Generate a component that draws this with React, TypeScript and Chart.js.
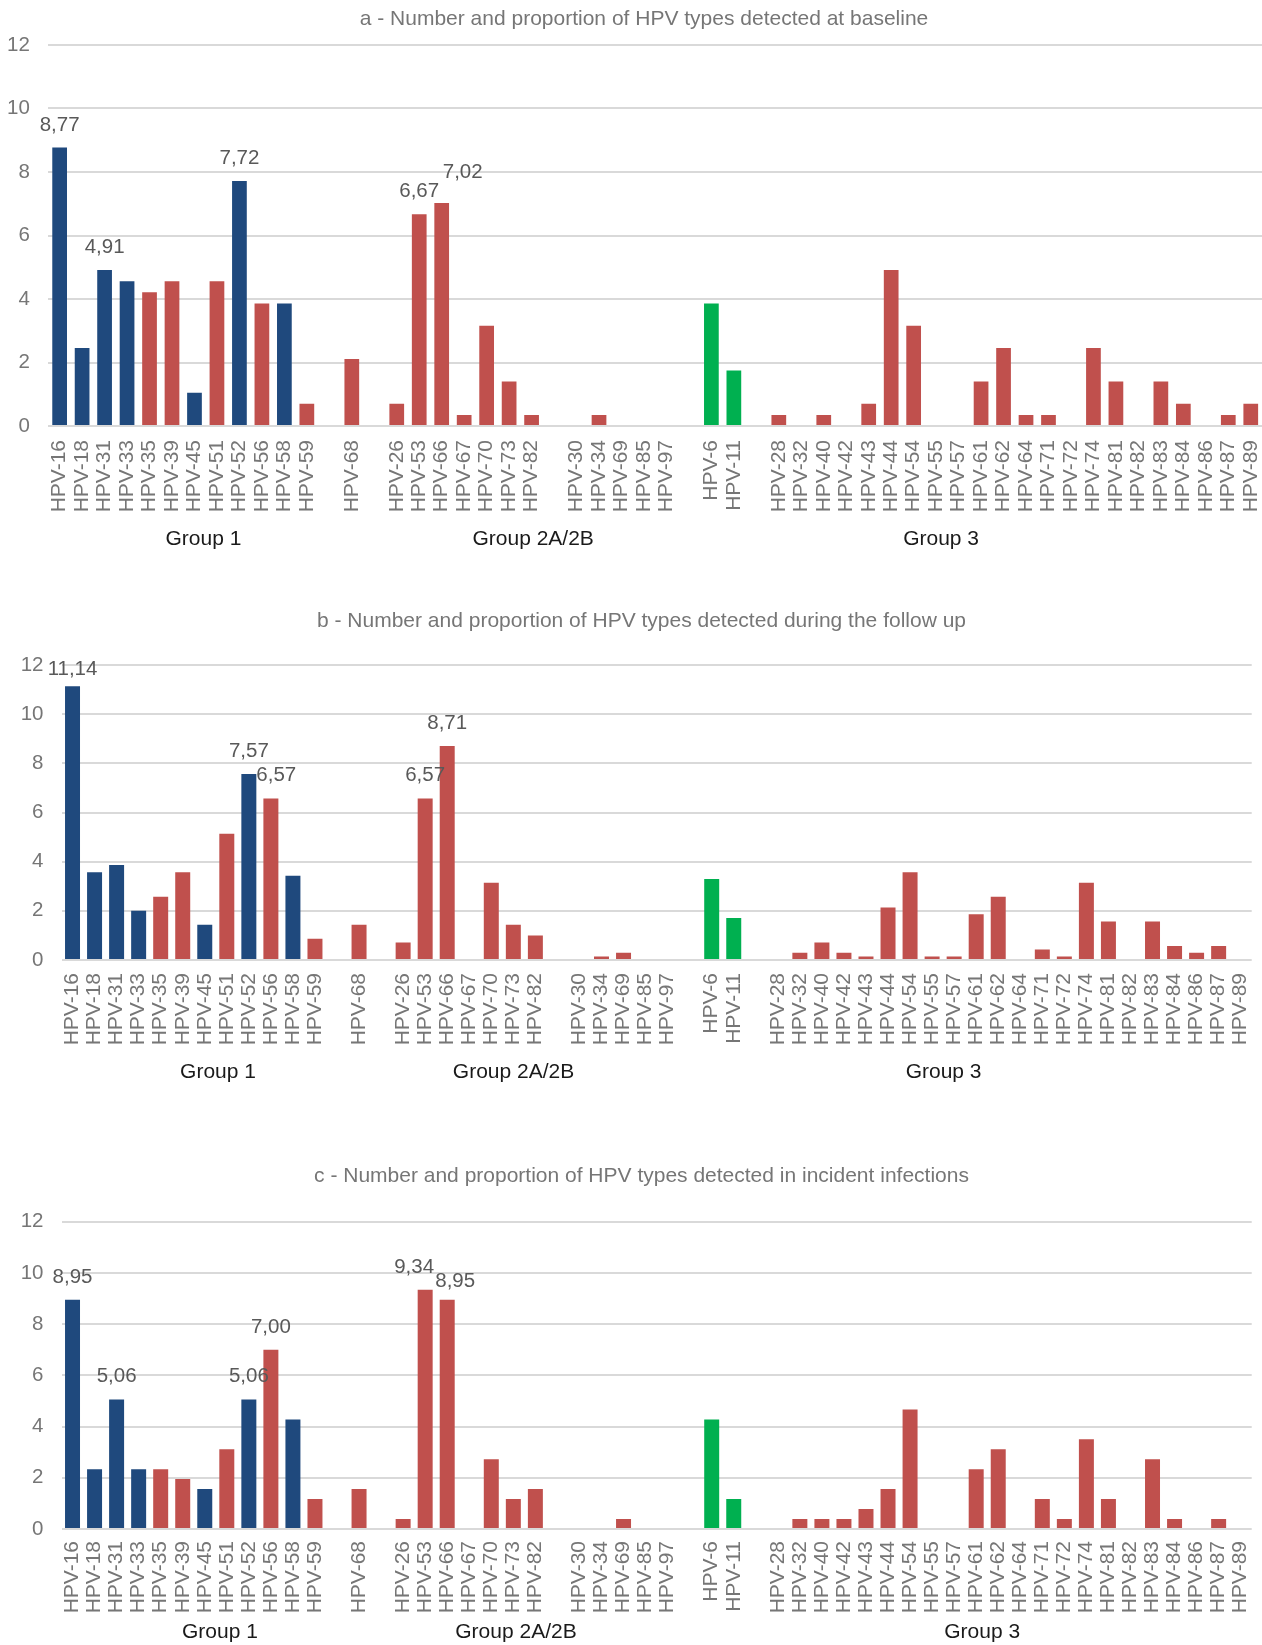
import React, { useEffect, useRef } from 'react';
import { Chart, registerables } from 'chart.js';

Chart.register(...registerables);

// ---------- DATA ----------
const categories = [
  'HPV-16', 'HPV-18', 'HPV-31', 'HPV-33', 'HPV-35', 'HPV-39', 'HPV-45', 'HPV-51', 'HPV-52', 'HPV-56', 'HPV-58', 'HPV-59',
  '',
  'HPV-68',
  '',
  'HPV-26', 'HPV-53', 'HPV-66', 'HPV-67', 'HPV-70', 'HPV-73', 'HPV-82',
  '',
  'HPV-30', 'HPV-34', 'HPV-69', 'HPV-85', 'HPV-97',
  '',
  'HPV-6', 'HPV-11',
  '',
  'HPV-28', 'HPV-32', 'HPV-40', 'HPV-42', 'HPV-43', 'HPV-44', 'HPV-54', 'HPV-55', 'HPV-57', 'HPV-61', 'HPV-62',
  'HPV-64', 'HPV-71', 'HPV-72', 'HPV-74', 'HPV-81', 'HPV-82', 'HPV-83', 'HPV-84', 'HPV-86', 'HPV-87', 'HPV-89',
];

// v = 9-valent vaccine high-risk type, o = other type, l = low-risk vaccine type, '' = spacer
const colourKey = [
  'v', 'v', 'v', 'v', 'o', 'o', 'v', 'o', 'v', 'o', 'v', 'o',
  '',
  'o',
  '',
  'o', 'o', 'o', 'o', 'o', 'o', 'o',
  '',
  'o', 'o', 'o', 'o', 'o',
  '',
  'l', 'l',
  '',
  'o', 'o', 'o', 'o', 'o', 'o', 'o', 'o', 'o', 'o', 'o',
  'o', 'o', 'o', 'o', 'o', 'o', 'o', 'o', 'o', 'o', 'o',
];

const baselineValues = [
  8.77, 2.46, 4.91, 4.56, 4.21, 4.56, 1.05, 4.56, 7.72, 3.86, 3.86, 0.70,
  null,
  2.11,
  null,
  0.70, 6.67, 7.02, 0.35, 3.16, 1.40, 0.35,
  null,
  0, 0.35, 0, 0, 0,
  null,
  3.86, 1.75,
  null,
  0.35, 0, 0.35, 0, 0.70, 4.91, 3.16, 0, 0, 1.40, 2.46,
  0.35, 0.35, 0, 2.46, 1.40, 0, 1.40, 0.70, 0, 0.35, 0.70,
];

const followUpValues = [
  11.14, 3.57, 3.86, 2.00, 2.57, 3.57, 1.43, 5.14, 7.57, 6.57, 3.43, 0.86,
  null,
  1.43,
  null,
  0.71, 6.57, 8.71, 0, 3.14, 1.43, 1.00,
  null,
  0, 0.14, 0.29, 0, 0,
  null,
  3.29, 1.71,
  null,
  0, 0.29, 0.71, 0.29, 0.14, 2.14, 3.57, 0.14, 0.14, 1.86, 2.57,
  0, 0.43, 0.14, 3.14, 1.57, 0, 1.57, 0.57, 0.29, 0.57, 0,
];

const incidentValues = [
  8.95, 2.33, 5.06, 2.33, 2.33, 1.95, 1.56, 3.11, 5.06, 7.00, 4.28, 1.17,
  null,
  1.56,
  null,
  0.39, 9.34, 8.95, 0, 2.72, 1.17, 1.56,
  null,
  0, 0, 0.39, 0, 0,
  null,
  4.28, 1.17,
  null,
  0, 0.39, 0.39, 0.39, 0.78, 1.56, 4.67, 0, 0, 2.33, 3.11,
  0, 1.17, 0.39, 3.50, 1.17, 0, 2.72, 0.39, 0, 0.39, 0,
];

const yTicks = [0, 2, 4, 6, 8, 10, 12];
const groupNames = ['Group 1', 'Group 2A/2B', 'Group 3'];
const titles = [
  'a - Number and proportion of HPV types detected at baseline',
  'b - Number and proportion of HPV types detected during the follow up',
  'c - Number and proportion of HPV types detected in incident infections',
];
// indices of bars carrying a data label
const labelledA = [0, 2, 8, 16, 17];
const labelledB = [0, 8, 9, 16, 17];
const labelledC = [0, 2, 8, 9, 16, 17];

// ---------- STYLE / LAYOUT ----------
const COLORS: Record<string, string> = { v: '#1F497D', o: '#C0504D', l: '#00B050', '': 'rgba(0,0,0,0)' };
const FONT = '"Liberation Sans", Arial, Helvetica, sans-serif';
const PAGE_W = 1262;
const X_AXIS_H = 92;
const LABEL_DY = -22.7;
const TICK_COLOR = '#767676';

type Panel = {
  values: (number | null)[];
  title: string;
  labelled: number[];
  labelShift: Record<number, { dx?: number; dy?: number }>;
  groupPos: number[];
  top: number; height: number;
  areaLeft: number; areaRight: number; areaTop: number; areaBottom: number;
  titleX: number; titleY: number; groupY: number;
  yPad: number; xPad: number; barPct: number;
};

const panels: Panel[] = [
  {
    values: baselineValues, title: titles[0], labelled: labelledA,
    labelShift: { 17: { dx: 21, dy: -31 } },
    groupPos: [6.4, 21.07, 39.22],
    top: 0, height: 565, areaLeft: 48.4, areaRight: 1262, areaTop: 45, areaBottom: 426,
    titleX: 644, titleY: 19, groupY: 539, yPad: 18.5, xPad: 14, barPct: 0.655,
  },
  {
    values: followUpValues, title: titles[1], labelled: labelledB,
    labelShift: { 0: { dy: -17 }, 9: { dx: 5.4 } },
    groupPos: [6.6, 20.01, 39.52],
    top: 580, height: 520, areaLeft: 61.5, areaRight: 1251.7, areaTop: 665, areaBottom: 960,
    titleX: 641.5, titleY: 621, groupY: 1072, yPad: 18, xPad: 13, barPct: 0.68,
  },
  {
    values: incidentValues, title: titles[2], labelled: labelledC,
    labelShift: { 16: { dx: -11 }, 17: { dx: 8, dy: -18 } },
    groupPos: [6.69, 20.12, 41.27],
    top: 1130, height: 515, areaLeft: 61.5, areaRight: 1251.7, areaTop: 1221.7, areaBottom: 1529,
    titleX: 641.5, titleY: 1176.5, groupY: 1632.5, yPad: 18, xPad: 12, barPct: 0.68,
  },
];

function fmt(v: number) {
  return v.toFixed(2).replace('.', ',');
}

function PanelChart({ p }: { p: Panel }) {
  const ref = useRef<HTMLCanvasElement | null>(null);
  useEffect(() => {
    if (!ref.current) return;
    const areaTopLocal = p.areaTop - p.top;
    const areaBottomLocal = p.areaBottom - p.top;
    const annotate = {
      id: 'annotate',
      afterDraw(chart: any) {
        const ctx = chart.ctx;
        const xs = chart.scales.x;
        const ys = chart.scales.y;
        ctx.save();
        // title
        ctx.font = `21px ${FONT}`;
        ctx.fillStyle = '#767676';
        ctx.textAlign = 'center';
        ctx.textBaseline = 'middle';
        ctx.fillText(p.title, p.titleX, p.titleY - p.top);
        // data labels
        ctx.font = `20.5px ${FONT}`;
        ctx.fillStyle = '#595959';
        p.labelled.forEach((i) => {
          const v = p.values[i];
          if (v == null) return;
          const s = p.labelShift[i] || {};
          const x = xs.getPixelForValue(i) + (s.dx || 0);
          const y = ys.getPixelForValue(v) + (s.dy ?? LABEL_DY);
          ctx.fillText(fmt(v), x, y);
        });
        // group labels
        ctx.font = `21px ${FONT}`;
        ctx.fillStyle = '#1a1a1a';
        groupNames.forEach((g, k) => {
          ctx.fillText(g, xs.getPixelForValue(p.groupPos[k]), p.groupY - p.top);
        });
        ctx.restore();
      },
    };
    const chart = new Chart(ref.current, {
      type: 'bar',
      data: {
        labels: categories,
        datasets: [
          {
            data: p.values as any,
            backgroundColor: colourKey.map((k) => COLORS[k]),
            borderWidth: 0,
            barPercentage: p.barPct,
            categoryPercentage: 1,
          },
        ],
      },
      options: {
        responsive: false,
        animation: false,
        events: [],
        layout: {
          padding: {
            left: 0,
            right: PAGE_W - p.areaRight,
            top: areaTopLocal,
            bottom: p.height - areaBottomLocal - X_AXIS_H,
          },
        },
        plugins: {
          legend: { display: false },
          title: { display: false },
          tooltip: { enabled: false },
        },
        scales: {
          x: {
            grid: { display: false, drawTicks: false },
            border: { display: false },
            ticks: {
              autoSkip: false,
              minRotation: 90,
              maxRotation: 90,
              padding: p.xPad,
              color: TICK_COLOR,
              font: { family: FONT, size: 21 },
            },
            afterFit: (s: any) => {
              s.height = X_AXIS_H;
              s.paddingLeft = 0;
              s.paddingRight = 0;
            },
          },
          y: {
            min: 0,
            max: 12,
            afterBuildTicks: (s: any) => {
              s.ticks = yTicks.map((v) => ({ value: v }));
            },
            grid: { color: '#D9D9D9', lineWidth: 2, drawTicks: false },
            border: { display: false },
            ticks: {
              padding: p.yPad,
              color: TICK_COLOR,
              font: { family: FONT, size: 20.5 },
            },
            afterFit: (s: any) => {
              s.width = p.areaLeft;
              s.paddingTop = 0;
              s.paddingBottom = 0;
            },
          },
        },
      },
      plugins: [annotate],
    });
    return () => chart.destroy();
  }, [p]);
  return (
    <canvas
      ref={ref}
      width={PAGE_W}
      height={p.height}
      style={{ position: 'absolute', left: 0, top: p.top, width: PAGE_W, height: p.height, display: 'block' }}
    />
  );
}

export default function App() {
  return (
    <div style={{ position: 'absolute', left: 0, top: 0, width: PAGE_W, height: 1645, overflow: 'hidden', background: '#fff' }}>
      {panels.map((p, i) => (
        <PanelChart key={i} p={p} />
      ))}
    </div>
  );
}
